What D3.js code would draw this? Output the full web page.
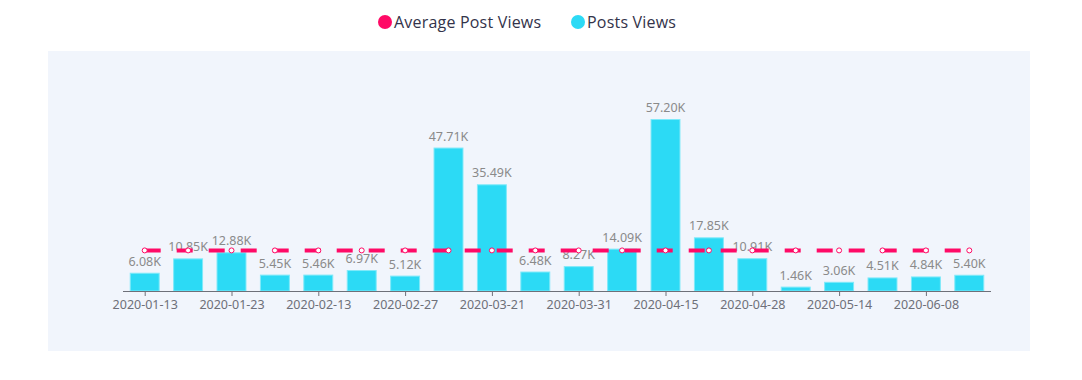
<!DOCTYPE html>
<html>
<head>
<meta charset="utf-8">
<script src="https://cdn.jsdelivr.net/npm/d3@7"></script>
<style>
  html, body { margin: 0; padding: 0; background: #ffffff; }
  svg { display: block; }
</style>
</head>
<body>
<svg id="chart" width="1082" height="380"></svg>
<script>
const categories = ["2020-01-13","2020-01-17","2020-01-23","2020-02-03","2020-02-13","2020-02-20","2020-02-27","2020-03-12","2020-03-21","2020-03-26","2020-03-31","2020-04-07","2020-04-15","2020-04-21","2020-04-28","2020-05-06","2020-05-14","2020-05-27","2020-06-08","2020-06-18"];
const postViews = [6.08,10.85,12.88,5.45,5.46,6.97,5.12,47.71,35.49,6.48,8.27,14.09,57.20,17.85,10.91,1.46,3.06,4.51,4.84,5.40];
const avgViews = [13.50,13.50,13.50,13.50,13.50,13.50,13.50,13.50,13.50,13.50,13.50,13.50,13.50,13.50,13.50,13.50,13.50,13.50,13.50,13.50];
const seriesNames = ["Average Post Views", "Posts Views"];
const yTicks = [0, 10, 20, 30, 40, 50, 60];

const pink = "#ff0a66";
const cyan = "#2cdaf5";
const svg = d3.select("#chart");

// background panel
svg.append("rect").attr("x", 48).attr("y", 51).attr("width", 982).attr("height", 300).attr("fill", "#f1f5fc");

const x = d3.scaleBand().domain(categories).range([123, 991]).paddingInner(0.31).paddingOuter(0.155);
const xc = d3.scalePoint().domain(categories).range([123, 991]).padding(0.5);
const y = d3.scaleLinear().domain([0, 60]).range([291, 110.6]);

// bars
svg.append("g").selectAll("rect").data(postViews).join("rect")
  .attr("x", (d, i) => x(categories[i]) + 0.5)
  .attr("y", d => y(d) + 0.5)
  .attr("width", x.bandwidth() - 1)
  .attr("height", d => y(0) - y(d) - 0.5)
  .attr("fill", cyan)
  .attr("stroke", "#7fe9f9")
  .attr("stroke-width", 1);

// bar labels
svg.append("g").selectAll("text").data(postViews).join("text")
  .attr("x", (d, i) => xc(categories[i]))
  .attr("y", d => y(d) - 7)
  .attr("text-anchor", "middle")
  .attr("font-family", "'Noto Sans', sans-serif")
  .attr("font-size", "12.5px")
  .attr("fill", "#8a8a8a")
  .text(d => d.toFixed(2) + "K");

// x axis
const xAxis = d3.axisBottom(xc)
  .tickValues(categories.filter((c, i) => i % 2 === 0))
  .tickSize(5).tickSizeOuter(0).tickPadding(4);
const gx = svg.append("g").attr("transform", "translate(0,291)").call(xAxis);
gx.select(".domain").attr("stroke", "#6e7079").attr("d", "M123,0.5H991");
gx.selectAll(".tick line").attr("stroke", "#6e7079");
gx.selectAll(".tick text")
  .attr("font-family", "'Noto Sans', sans-serif")
  .attr("font-size", "12.5px")
  .attr("fill", "#6e7079");

// average line
const line = d3.line().x((d, i) => xc(categories[i])).y(d => y(d));
svg.append("path").datum(avgViews)
  .attr("d", line)
  .attr("fill", "none")
  .attr("stroke", pink)
  .attr("stroke-width", 4)
  .attr("stroke-dasharray", "16,16");
svg.append("g").selectAll("circle").data(avgViews).join("circle")
  .attr("cx", (d, i) => xc(categories[i]))
  .attr("cy", d => y(d))
  .attr("r", 2.5)
  .attr("fill", "#ffffff")
  .attr("stroke", pink)
  .attr("stroke-width", 1);

// legend
const legendColors = [pink, cyan];
const legendPos = [385, 578];
const lg = svg.append("g");
seriesNames.forEach((name, i) => {
  lg.append("circle").attr("cx", legendPos[i]).attr("cy", 22).attr("r", 7).attr("fill", legendColors[i]);
  lg.append("text").attr("x", legendPos[i] + 9).attr("y", 28)
    .attr("font-family", "'Open Sans', sans-serif")
    .attr("font-size", "16px")
    .attr("letter-spacing", "0.2px")
    .attr("fill", "#33334a")
    .text(name);
});
</script>
</body>
</html>
